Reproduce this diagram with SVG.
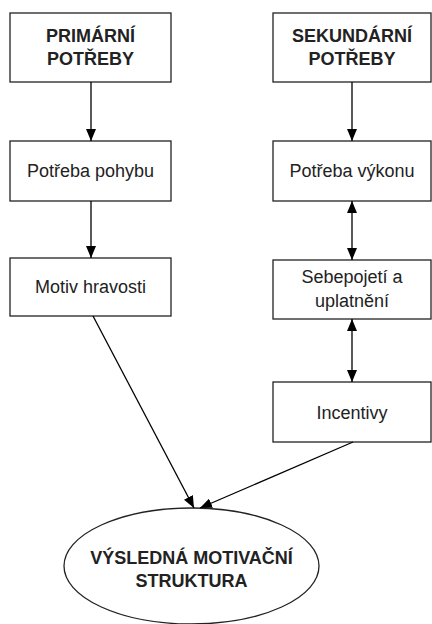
<svg xmlns="http://www.w3.org/2000/svg" width="432" height="624" viewBox="0 0 432 624">
<defs>
<marker id="ah" viewBox="0 0 12 10" refX="12" refY="5" markerWidth="12" markerHeight="10" markerUnits="userSpaceOnUse" orient="auto-start-reverse">
<path d="M0,0 L12,5 L0,10 Z" fill="#000"/>
</marker>
<style>
.box{fill:#fff;stroke:#222;stroke-width:1.3}
.t{font-family:"Liberation Sans",Arial,sans-serif;font-size:18px;fill:#222;text-anchor:middle}
.b{font-weight:bold}
.c{stroke:#000;stroke-width:1.3;fill:none}
</style>
</defs>
<rect width="432" height="624" fill="#fff"/>
<g id="primarni">
<rect class="box" x="10" y="13" width="161" height="69"/>
<text class="t b" x="90.5" y="42">PRIMÁRNÍ</text>
<text class="t b" x="90.5" y="65">POTŘEBY</text>
</g>
<g id="sekundarni">
<rect class="box" x="273" y="13" width="158" height="69"/>
<text class="t b" x="352" y="42">SEKUNDÁRNÍ</text>
<text class="t b" x="352" y="65">POTŘEBY</text>
</g>
<g id="pohyb">
<rect class="box" x="10" y="141" width="161" height="60"/>
<text class="t" x="90.5" y="177">Potřeba pohybu</text>
</g>
<g id="vykon">
<rect class="box" x="273" y="141" width="158" height="60"/>
<text class="t" x="352" y="177">Potřeba výkonu</text>
</g>
<g id="hravost">
<rect class="box" x="10" y="258" width="161" height="58"/>
<text class="t" x="90.5" y="293">Motiv hravosti</text>
</g>
<g id="sebepojeti">
<rect class="box" x="273" y="260" width="158" height="59"/>
<text class="t" x="352" y="283">Sebepojetí a</text>
<text class="t" x="352" y="307">uplatnění</text>
</g>
<g id="incentivy">
<rect class="box" x="273" y="382" width="158" height="60"/>
<text class="t" x="352" y="419">Incentivy</text>
</g>
<g id="vysledna">
<ellipse class="box" cx="191.5" cy="566" rx="127.5" ry="58"/>
<text class="t b" x="191.5" y="564">VÝSLEDNÁ MOTIVAČNÍ</text>
<text class="t b" x="191.5" y="587">STRUKTURA</text>
</g>
<g id="connectors">
<line class="c" x1="91" y1="82" x2="91" y2="141" marker-end="url(#ah)"/>
<line class="c" x1="352" y1="82" x2="352" y2="141" marker-end="url(#ah)"/>
<line class="c" x1="91" y1="201" x2="91" y2="258" marker-end="url(#ah)"/>
<line class="c" x1="352" y1="201" x2="352" y2="260" marker-start="url(#ah)" marker-end="url(#ah)"/>
<line class="c" x1="352" y1="319" x2="352" y2="382" marker-start="url(#ah)" marker-end="url(#ah)"/>
<line class="c" x1="93" y1="316" x2="194" y2="508" marker-end="url(#ah)"/>
<line class="c" x1="353" y1="442" x2="200" y2="508" marker-end="url(#ah)"/>
</g>
</svg>
